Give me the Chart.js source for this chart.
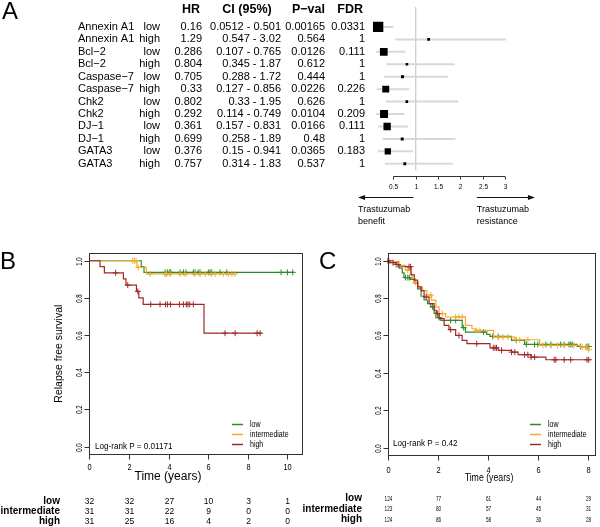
<!DOCTYPE html>
<html lang="en">
<head>
<meta charset="UTF-8">
<title>Biomarkers and trastuzumab</title>
<script src="https://cdn.jsdelivr.net/npm/chart.js"></script>
<style>
  body { margin: 0; background: #fff; }
  .wrap { position: relative; width: 600px; height: 527px; }
  .wrap canvas { position: absolute; left: 0; top: 0; }
</style>
</head>
<body>
<div class="wrap">
  <canvas id="forest" width="600" height="527"></canvas>
  <canvas id="kmB" width="600" height="527"></canvas>
  <canvas id="kmC" width="600" height="527"></canvas>
</div>
<script>
// ---- panel A: hazard ratios ----
const genes = ['Annexin A1', 'Annexin A1', 'Bcl−2', 'Bcl−2', 'Caspase−7', 'Caspase−7', 'Chk2', 'Chk2', 'DJ−1', 'DJ−1', 'GATA3', 'GATA3'];
const levels = ['low', 'high', 'low', 'high', 'low', 'high', 'low', 'high', 'low', 'high', 'low', 'high'];
const hazard = [0.16, 1.29, 0.286, 0.804, 0.705, 0.33, 0.802, 0.292, 0.361, 0.699, 0.376, 0.757];
const ciLow = [0.0512, 0.547, 0.107, 0.345, 0.288, 0.127, 0.33, 0.114, 0.157, 0.258, 0.15, 0.314];
const ciHigh = [0.501, 3.02, 0.765, 1.87, 1.72, 0.856, 1.95, 0.749, 0.831, 1.89, 0.941, 1.83];
const pVal = [0.00165, 0.564, 0.0126, 0.612, 0.444, 0.0226, 0.626, 0.0104, 0.0166, 0.48, 0.0365, 0.537];
const fdr = [0.0331, 1, 0.111, 1, 1, 0.226, 1, 0.209, 0.111, 1, 0.183, 1];
const hrTicks = [0.5, 1, 1.5, 2, 2.5, 3];

// ---- panel B: Kaplan-Meier ----
const groupNames = ['low', 'intermediate', 'high'];
const bLowT = [2.62, 2.76];
const bLowS = [0.969, 0.9375];
const bLowEnd = 10.3;
const bLowCens = [3.82, 3.94, 4.04, 4.11, 4.58, 4.75, 4.88, 5.25, 5.34, 5.5, 5.59, 6.01, 6.1, 6.18, 6.6, 6.94, 9.68, 10.0, 10.27];
const bIntT = [2.4, 2.88];
const bIntS = [0.964, 0.929];
const bIntEnd = 7.35;
const bIntCens = [2.19, 2.27, 2.36, 2.47, 3.07, 3.82, 3.9, 4.07, 4.58, 4.83, 5.34, 5.59, 5.85, 6.18, 6.35, 6.77, 7.02, 7.2, 7.35];
const bHighT = [0.54, 0.76, 1.72, 1.85, 2.38, 2.5, 2.72, 5.79];
const bHighS = [0.968, 0.935, 0.902, 0.869, 0.835, 0.8, 0.765, 0.61];
const bHighEnd = 8.7;
const bHighCens = [1.33, 1.94, 2.45, 3.1, 3.57, 3.85, 3.95, 4.1, 4.55, 4.75, 4.9, 4.98, 5.07, 5.25, 6.85, 7.36, 8.47, 8.62];
const bTicks = [0, 2, 4, 6, 8, 10];
const bRiskLow = [32, 32, 27, 10, 3, 1];
const bRiskInt = [31, 31, 22, 9, 0, 0];
const bRiskHigh = [31, 25, 16, 4, 2, 0];

// ---- panel C: Kaplan-Meier ----
const cLowT = [0.2, 0.35, 0.46, 0.59, 0.66, 0.92, 1.07, 1.2, 1.34, 1.46, 1.6, 1.73, 1.86, 1.93, 2.13, 2.98, 3.11, 3.96, 4.09, 4.95, 5.47, 7.57];
const cLowS = [0.995, 0.98, 0.96, 0.935, 0.91, 0.9, 0.88, 0.85, 0.81, 0.79, 0.77, 0.753, 0.72, 0.696, 0.681, 0.642, 0.618, 0.606, 0.595, 0.574, 0.552, 0.541];
const cLowEnd = 8.09;
const cLowCens = [0.35, 0.72, 0.81, 0.87, 1.8, 2.06, 2.52, 2.72, 3.04, 3.83, 4.2, 4.42, 5.14, 5.54, 5.87, 6.0, 6.32, 6.52, 6.91, 7.05, 7.24, 7.31, 7.37, 7.7, 7.96, 8.03];
const cIntT = [0.2, 0.46, 0.72, 0.92, 0.98, 1.11, 1.24, 1.4, 1.57, 1.76, 1.93, 2.06, 2.32, 3.11, 3.37, 3.5, 4.23, 5.08, 6.07, 7.7, 7.96];
const cIntS = [0.995, 0.975, 0.95, 0.93, 0.905, 0.885, 0.86, 0.84, 0.816, 0.789, 0.753, 0.717, 0.699, 0.654, 0.636, 0.627, 0.591, 0.577, 0.547, 0.538, 0.524];
const cIntEnd = 8.09;
const cIntCens = [0.02, 0.81, 1.11, 1.73, 2.19, 2.72, 2.85, 2.98, 3.56, 3.69, 4.42, 4.61, 4.81, 5.14, 5.28, 5.6, 6.2, 6.52, 6.78, 7.05, 7.44, 7.77, 7.9, 8.03];
const cHighT = [0.07, 0.33, 0.46, 0.94, 1.07, 1.2, 1.34, 1.46, 1.66, 1.86, 1.95, 2.06, 2.26, 2.45, 2.72, 2.98, 3.17, 4.09, 4.42, 4.95, 5.21, 5.73, 6.32];
const cHighS = [0.99, 0.98, 0.968, 0.925, 0.896, 0.86, 0.84, 0.806, 0.771, 0.735, 0.717, 0.69, 0.654, 0.631, 0.6, 0.574, 0.556, 0.534, 0.52, 0.511, 0.497, 0.484, 0.47];
const cHighEnd = 8.09;
const cHighCens = [0.0, 0.05, 0.22, 0.42, 0.86, 0.92, 1.54, 2.0, 2.52, 2.85, 3.56, 4.22, 4.29, 4.35, 4.55, 4.95, 5.08, 5.47, 5.6, 5.73, 5.87, 6.65, 6.72, 7.05, 7.31, 7.96, 8.03];
const cTicks = [0, 2, 4, 6, 8];
const cRiskLow = [124, 77, 61, 44, 29];
const cRiskInt = [123, 80, 57, 45, 31];
const cRiskHigh = [124, 86, 58, 36, 28];

const survTicks = [0, 0.2, 0.4, 0.6, 0.8, 1.0];
const COLORS = ['#2f8a2f', '#f4aa2e', '#a02828'];
const FONT = "'Liberation Sans', Arial, sans-serif";

function txt(ctx, s, x, y, size, opts = {}) {
    ctx.save();
    ctx.translate(x, y);
    if (opts.rot) ctx.rotate(opts.rot);
    ctx.scale(opts.sx || 1, 1);
    ctx.font = (opts.bold ? 'bold ' : '') + size + 'px ' + FONT;
    ctx.textAlign = opts.align || 'left';
    ctx.textBaseline = 'middle';
    ctx.fillStyle = opts.color || '#000';
    ctx.fillText(s, 0, 0);
    ctx.restore();
}

function seg(ctx, x1, y1, x2, y2) {
    ctx.beginPath(); ctx.moveTo(x1, y1); ctx.lineTo(x2, y2); ctx.stroke();
}

// ---- forest plot (panel A) ----
const forestFrame = {
    id: 'forestFrame',
    afterDraw(chart) {
        const ctx = chart.ctx, xs = chart.scales.x, ys = chart.scales.y;
        txt(ctx, 'A', 2, 12, 24);
        // header
        txt(ctx, 'HR', 200, 10, 12.5, { bold: true, align: 'right' });
        txt(ctx, 'CI (95%)', 247, 10, 12.5, { bold: true, align: 'center' });
        txt(ctx, 'P−val', 325, 10, 12.5, { bold: true, align: 'right' });
        txt(ctx, 'FDR', 363, 10, 12.5, { bold: true, align: 'right' });
        genes.forEach((g, i) => {
            const y = ys.getPixelForValue(i);
            txt(ctx, g, 78, y, 11);
            txt(ctx, levels[i], 160, y, 11, { align: 'right' });
            txt(ctx, String(hazard[i]), 202, y, 11, { align: 'right' });
            txt(ctx, ciLow[i] + ' - ' + ciHigh[i], 281, y, 11, { align: 'right' });
            txt(ctx, String(pVal[i]), 325, y, 11, { align: 'right' });
            txt(ctx, String(fdr[i]), 365, y, 11, { align: 'right' });
        });
        // axis
        ctx.save();
        ctx.strokeStyle = '#333'; ctx.lineWidth = 1;
        const ay = 176.5;
        seg(ctx, xs.getPixelForValue(hrTicks[0]), ay, xs.getPixelForValue(hrTicks[hrTicks.length - 1]), ay);
        hrTicks.forEach(v => {
            const px = Math.round(xs.getPixelForValue(v)) + 0.5;
            seg(ctx, px, ay, px, ay + 3);
            txt(ctx, String(v), px, 187, 6.5, { align: 'center' });
        });
        // arrows
        ctx.strokeStyle = '#111'; ctx.fillStyle = '#111';
        const aY = 197.5;
        const l1 = xs.getPixelForValue(0.95), l2 = xs.getPixelForValue(-0.29);
        const r1 = xs.getPixelForValue(2.37), r2 = xs.getPixelForValue(3.67);
        seg(ctx, l1, aY, l2 + 5, aY);
        seg(ctx, r1, aY, r2 - 5, aY);
        ctx.beginPath(); ctx.moveTo(l2, aY); ctx.lineTo(l2 + 7, aY - 2.5); ctx.lineTo(l2 + 7, aY + 2.5); ctx.closePath(); ctx.fill();
        ctx.beginPath(); ctx.moveTo(r2, aY); ctx.lineTo(r2 - 7, aY - 2.5); ctx.lineTo(r2 - 7, aY + 2.5); ctx.closePath(); ctx.fill();
        ctx.restore();
        txt(ctx, 'Trastuzumab', l2, 210, 9);
        txt(ctx, 'benefit', l2, 222, 9);
        txt(ctx, 'Trastuzumab', r1, 210, 9);
        txt(ctx, 'resistance', r1, 222, 9);
    }
};

const forestSets = [];
forestSets.push({
    data: hazard.map((v, i) => ({ x: v, y: i })),
    pointStyle: 'rect',
    pointRadius: pVal.map(p => (2 + 3 * -Math.log10(p)) / Math.SQRT2),
    backgroundColor: '#000', borderColor: '#000', borderWidth: 0
});
genes.forEach((g, i) => {
    forestSets.push({
        data: [{ x: ciLow[i], y: i }, { x: ciHigh[i], y: i }],
        showLine: true, pointRadius: 0, borderColor: '#d8d8d8', borderWidth: 2
    });
});
forestSets.push({
    data: [{ x: 1, y: -1.6 }, { x: 1, y: 11.5 }],
    showLine: true, pointRadius: 0, borderColor: '#d0d0d0', borderWidth: 1
});

new Chart(document.getElementById('forest'), {
    type: 'scatter',
    data: { datasets: forestSets },
    options: {
        responsive: false, animation: false, events: [],
        layout: { padding: { left: 371, right: 81.6, top: 0, bottom: 357 } },
        plugins: { legend: { display: false }, tooltip: { enabled: false } },
        scales: {
            x: { type: 'linear', min: 0, max: 3.3, display: false },
            y: { type: 'linear', min: -1.577, max: 11.5, reverse: true, display: false }
        }
    },
    plugins: [forestFrame]
});

// ---- Kaplan-Meier panels ----
function survAt(times, surv, t) {
    let s = 1;
    times.forEach((tt, i) => { if (tt <= t) s = surv[i]; });
    return s;
}

function kmSets(curves) {
    const sets = [];
    curves.forEach((c, k) => {
        const pts = [{ x: 0, y: 1 }].concat(c.t.map((t, i) => ({ x: t, y: c.s[i] })));
        pts.push({ x: c.end, y: c.s[c.s.length - 1] });
        sets.push({
            data: c.cens.map(t => ({ x: t, y: survAt(c.t, c.s, t) })),
            pointStyle: 'cross', pointRadius: 3, borderWidth: 1, borderColor: COLORS[k], showLine: false
        });
        sets.push({
            data: pts, showLine: true, stepped: true, pointRadius: 0,
            borderColor: COLORS[k], borderWidth: 1.2, fill: false
        });
    });
    return sets.reverse(); // first drawn last
}

const kmFrame = {
    id: 'kmFrame',
    afterDatasetsDraw(chart, args, o) {
        const ctx = chart.ctx, a = chart.chartArea, xs = chart.scales.x, ys = chart.scales.y;
        ctx.save();
        ctx.strokeStyle = '#333'; ctx.lineWidth = 1;
        const L = Math.round(a.left) + 0.5, T = Math.round(a.top) + 0.5;
        const R = Math.round(a.right) + 0.5, B = Math.round(a.bottom) + 0.5;
        ctx.strokeRect(L, T, R - L, B - T);
        o.xTicks.forEach((v, j) => {
            const px = Math.round(xs.getPixelForValue(v)) + 0.5;
            seg(ctx, px, B, px, B + 5);
            txt(ctx, String(v), px, o.xLabelY, 9.5, { align: 'center', sx: 0.78 });
            o.risk.forEach((row, r) => {
                txt(ctx, String(row[j]), px, o.riskY[r], o.riskSize, { align: 'center', sx: o.riskSx });
            });
        });
        survTicks.forEach(v => {
            const py = Math.round(ys.getPixelForValue(v)) + 0.5;
            seg(ctx, L - 5, py, L, py);
            txt(ctx, v.toFixed(1), L - 10, py, 8.5, { align: 'center', rot: -Math.PI / 2, sx: 0.72 });
        });
        // legend
        groupNames.forEach((g, k) => {
            ctx.strokeStyle = COLORS[k]; ctx.lineWidth = 1.5;
            const ly = o.legendY + k * 10;
            seg(ctx, o.legendX, ly, o.legendX + 11, ly);
            txt(ctx, g, o.legendX + 18, ly, 9, { sx: 0.78 });
            txt(ctx, g, o.riskLabelX, o.riskY[k], 10, { bold: true, align: 'right' });
        });
        ctx.restore();
        txt(ctx, o.pText, o.pX, o.pY, 9, { sx: 0.9 });
        txt(ctx, 'Time (years)', o.titleX, o.titleY, o.titleSize, { align: 'center', sx: o.titleSx });
        if (o.yTitle) txt(ctx, o.yTitle, 59, (a.top + a.bottom) / 2, 10.5, { align: 'center', rot: -Math.PI / 2 });
        txt(ctx, o.letter, o.letterX, 262, 24);
    }
};

function kmChart(id, curves, xMax, pad, frame) {
    return new Chart(document.getElementById(id), {
        type: 'scatter',
        data: { datasets: kmSets(curves) },
        options: {
            responsive: false, animation: false, events: [],
            layout: { padding: pad },
            plugins: { legend: { display: false }, tooltip: { enabled: false }, kmFrame: frame },
            scales: {
                x: { type: 'linear', min: 0, max: xMax, display: false },
                y: { type: 'linear', min: -0.04, max: 1.04, display: false }
            }
        },
        plugins: [kmFrame]
    });
}

kmChart('kmB', [
    { t: bLowT, s: bLowS, end: bLowEnd, cens: bLowCens },
    { t: bIntT, s: bIntS, end: bIntEnd, cens: bIntCens },
    { t: bHighT, s: bHighS, end: bHighEnd, cens: bHighCens }
], 10.72, { left: 89.3, right: 298.3, top: 253.3, bottom: 73 }, {
    xTicks: bTicks, xLabelY: 467.5, risk: [bRiskLow, bRiskInt, bRiskHigh],
    riskY: [501.5, 511.5, 521.5], riskSize: 8.5, riskSx: 1, riskLabelX: 60,
    legendX: 232, legendY: 424.5, pText: 'Log-rank P = 0.01171', pX: 95, pY: 446.5,
    titleX: 168, titleY: 477, titleSize: 12, titleSx: 1,
    yTitle: 'Relapse free survival', letter: 'B', letterX: 0
});

kmChart('kmC', [
    { t: cLowT, s: cLowS, end: cLowEnd, cens: cLowCens },
    { t: cIntT, s: cIntS, end: cIntEnd, cens: cIntCens },
    { t: cHighT, s: cHighS, end: cHighEnd, cens: cHighCens }
], 8.28, { left: 387.5, right: 2, top: 253.3, bottom: 72 }, {
    xTicks: cTicks, xLabelY: 470, risk: [cRiskLow, cRiskInt, cRiskHigh],
    riskY: [498.5, 509, 519.5], riskSize: 7.5, riskSx: 0.62, riskLabelX: 362,
    legendX: 530, legendY: 424.5, pText: 'Log-rank P = 0.42', pX: 393, pY: 443.5,
    titleX: 489, titleY: 478, titleSize: 11.5, titleSx: 0.76,
    yTitle: null, letter: 'C', letterX: 319
});
</script>
</body>
</html>
